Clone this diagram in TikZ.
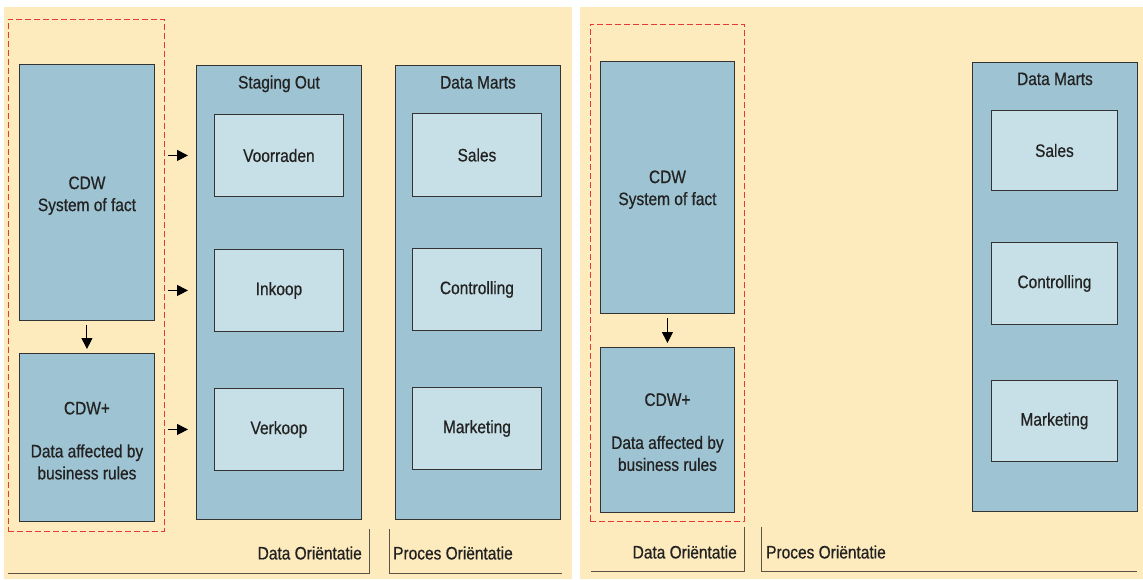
\documentclass[tikz,border=0pt]{standalone}
\usepackage{fontspec}
\setmainfont{Liberation Sans}[FakeStretch=0.86, FakeBold=0.6]
\usetikzlibrary{arrows.meta,positioning,calc}
\definecolor{cream}{HTML}{FEEBBD}
\definecolor{tierblue}{HTML}{9EC3D2}
\definecolor{martblue}{HTML}{C7DFE6}
\definecolor{edge}{HTML}{333333}
\definecolor{ink}{HTML}{222222}
\definecolor{dashred}{HTML}{E53935}
\definecolor{rulegrey}{HTML}{5C5346}

\begin{document}
\begin{tikzpicture}[x=1pt, y=-1pt,
  font=\fontsize{18pt}{22pt}\selectfont,
  tier/.style={draw=edge, fill=tierblue, line width=0.9pt, anchor=north west, inner sep=0pt, align=center, text=ink},
  mart/.style={tier, fill=martblue},
  boxtitle/.style={anchor=base, inner sep=0pt, text=ink},
  zone/.style={draw=dashred, dash pattern=on 6pt off 3pt, line width=0.8pt, anchor=north west, inner sep=0pt},
  flow/.style={-{Triangle[length=11pt,width=11pt]}, line width=1pt, draw=black},
  orient/.style={draw=rulegrey, line width=0.9pt},
  orienttext/.style={inner sep=0pt, text=ink}
]
  \useasboundingbox (0,0) rectangle (1143,579);
  \fill[cream] (4,7) rectangle (572,579);
  \fill[cream] (580,7) rectangle (1143,579);

  % left: CDW feeding the staging area and the data marts
  \node[zone, minimum width=156, minimum height=512] (zoneL) at (8,19) {};
  \node[tier, minimum width=135, minimum height=256] (cdwL) at (19,64) {\rule{0pt}{19pt}CDW\\System of fact};
  \node[tier, minimum width=135, minimum height=168] (cdwpL) at (19,353) {\rule{0pt}{19pt}CDW+\\[21pt]Data affected by\\business rules};
  \draw[flow] ([yshift=-4pt]cdwL.south) -- ([yshift=4pt]cdwpL.north);

  \node[tier, minimum width=165, minimum height=454] (stg) at (196,65) {};
  \node[boxtitle] (stgT) at ([yshift=-23.5pt]stg.north) {Staging Out};
  \node[mart, minimum width=129, minimum height=82] (vrr) at (214,114) {Voorraden};
  \node[mart, minimum width=129, minimum height=82] (ink) at (214,249) {Inkoop};
  \node[mart, minimum width=129, minimum height=82] (vkp) at (214,388) {Verkoop};
  \foreach \n in {vrr,ink,vkp}
    \draw[flow] ($(stg.west |- \n.west)+(-28,0)$) -- ($(stg.west |- \n.west)+(-8,0)$);

  \node[tier, minimum width=165, minimum height=454] (dmL) at (395,65) {};
  \node[boxtitle] (dmLT) at ([yshift=-23.5pt]dmL.north) {Data Marts};
  \node[mart, minimum width=129, minimum height=83] (salesL) at (412,113) {Sales};
  \node[mart, minimum width=129, minimum height=82] (ctrlL) at (412,248) {Controlling};
  \node[mart, minimum width=129, minimum height=82] (mktL) at (412,387) {Marketing};

  \draw[orient] (8,573) -- (369,573) -- (369,529);
  \node[orienttext, anchor=east] (dataL) at (362,553) {Data Oriëntatie};
  \draw[orient] (389,529) -- (389,573) -- (562,573);
  \node[orienttext, anchor=west] (procL) at (393,553) {Proces Oriëntatie};

  % right: CDW and the data marts only
  \node[zone, minimum width=154, minimum height=497] (zoneR) at (590,24) {};
  \node[tier, minimum width=134, minimum height=252] (cdwR) at (600,61) {\rule{0pt}{17pt}CDW\\System of fact};
  \node[tier, minimum width=134, minimum height=165] (cdwpR) at (600,347) {\rule{0pt}{17pt}CDW+\\[21pt]Data affected by\\business rules};
  \draw[flow] ([yshift=-4pt]cdwR.south) -- ([yshift=4pt]cdwpR.north);

  \node[tier, minimum width=165, minimum height=449] (dmR) at (972,62) {};
  \node[boxtitle] (dmRT) at ([yshift=-23pt]dmR.north) {Data Marts};
  \node[mart, minimum width=126, minimum height=80] (salesR) at (991,110) {Sales};
  \node[mart, minimum width=126, minimum height=82] (ctrlR) at (991,242) {Controlling};
  \node[mart, minimum width=126, minimum height=81] (mktR) at (991,380) {Marketing};

  \draw[orient] (591,571) -- (744,571) -- (744,527);
  \node[orienttext, anchor=east] (dataR) at (737,552) {Data Oriëntatie};
  \draw[orient] (761,527) -- (761,571) -- (1137,571);
  \node[orienttext, anchor=west] (procR) at (766,552) {Proces Oriëntatie};
\end{tikzpicture}
\end{document}
